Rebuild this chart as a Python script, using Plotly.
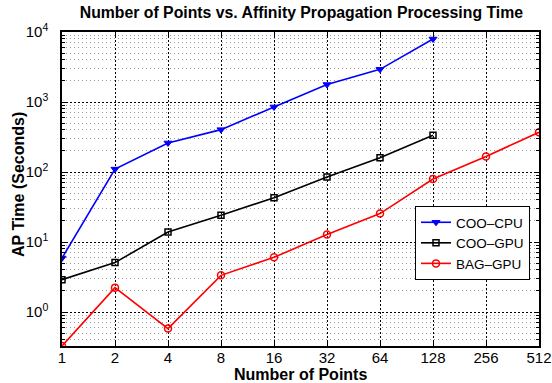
import plotly.graph_objects as go
import numpy as np

points = [1, 2, 4, 8, 16, 32, 64, 128, 256, 512]
x_ticklabels = ["1", "2", "4", "8", "16", "32", "64", "128", "256", "512"]

coo_cpu = [5.9, 110, 260, 403, 850, 1775, 2930, 7940]
coo_gpu = [2.9, 5.08, 13.9, 24.1, 43, 85, 160, 334]
bag_gpu = [0.327, 2.23, 0.58, 3.34, 6.04, 12.8, 25.5, 79.5, 167, 369]

y_tickvals = [1, 10, 100, 1000, 10000]
y_ticklabels = ["10<sup>0</sup>", "10<sup>1</sup>", "10<sup>2</sup>", "10<sup>3</sup>", "10<sup>4</sup>"]

minor_vals = [m * 10.0 ** k for k in range(-1, 4) for m in range(2, 10)]

FONT = "Liberation Sans, Arial, Helvetica, sans-serif"
L, R, T, B = 62, 13, 32, 37
W, H = 552, 383
PW, PH = W - L - R, H - T - B

fig = go.Figure()
fig.add_trace(go.Scatter(x=points[:len(coo_cpu)], y=coo_cpu, name="COO–CPU", mode="lines+markers",
                         line=dict(color="#0000ff", width=1.6),
                         marker=dict(symbol="triangle-down", size=7, color="#0000ff",
                                     line=dict(color="#0000ff", width=1))))
fig.add_trace(go.Scatter(x=points[:len(coo_gpu)], y=coo_gpu, name="COO–GPU", mode="lines+markers",
                         line=dict(color="#000000", width=1.6),
                         marker=dict(symbol="square-open", size=6, color="#000000",
                                     line=dict(color="#000000", width=1.5))))
fig.add_trace(go.Scatter(x=points[:len(bag_gpu)], y=bag_gpu, name="BAG–GPU", mode="lines+markers",
                         line=dict(color="#ff0000", width=1.6),
                         marker=dict(symbol="circle-open", size=7, color="#ff0000",
                                     line=dict(color="#ff0000", width=1.5))))

fig.update_layout(
    width=W, height=H,
    margin=dict(l=L, r=R, t=T, b=B, autoexpand=False),
    paper_bgcolor="white", plot_bgcolor="white",
    font=dict(family=FONT, color="black"),
    title=dict(text="<b>Number of Points vs. Affinity Propagation Processing Time</b>",
               x=0.546, xanchor="center", y=1 - 12.5 / H, yanchor="middle",
               font=dict(size=15.8, family=FONT, color="black")),
    showlegend=True,
    legend=dict(x=(415 - L) / PW, y=(H - B - 206) / PH, xanchor="left", yanchor="top",
                bgcolor="white", bordercolor="black", borderwidth=1,
                font=dict(size=13.5, family=FONT, color="black"),
                tracegroupgap=0, itemwidth=30),
    annotations=[
        dict(text="<b>Number of Points</b>", xref="paper", yref="paper",
             x=0.5, y=-(374 - (H - B)) / PH, xanchor="center", yanchor="middle",
             showarrow=False, font=dict(size=16, family=FONT, color="black")),
        dict(text="<b>AP Time (Seconds)</b>", xref="paper", yref="paper",
             x=-(L - 18) / PW, y=(H - B - 185) / PH, xanchor="center", yanchor="middle",
             textangle=-90, showarrow=False, font=dict(size=16, family=FONT, color="black")),
    ],
)

fig.update_xaxes(
    type="log", range=[np.log10(points[0]), np.log10(points[-1])],
    tickvals=points, ticktext=x_ticklabels, automargin=False,
    tickfont=dict(size=15, family=FONT, color="black"),
    ticks="inside", ticklen=5, tickcolor="black", ticklabelstandoff=-3,
    showline=True, linecolor="black", linewidth=1.5, mirror="allticks",
    showgrid=True, gridcolor="black", griddash="2px,2px", gridwidth=1,
    zeroline=False,
)

fig.update_yaxes(
    type="log", range=[np.log10(min(bag_gpu)), 4],
    tickvals=y_tickvals, ticktext=y_ticklabels, automargin=False,
    tickfont=dict(size=15, family=FONT, color="black"),
    ticks="inside", ticklen=5, tickcolor="black", ticklabelstandoff=9,
    showline=True, linecolor="black", linewidth=1.5, mirror="allticks",
    showgrid=True, gridcolor="black", griddash="2px,2px", gridwidth=1,
    zeroline=False,
    minor=dict(tickvals=minor_vals, ticks="inside", ticklen=3, tickcolor="black",
               showgrid=True, gridcolor="#9a9a9a", griddash="1px,3px", gridwidth=1),
)

fig.write_html("out.html", config={"displayModeBar": False},
               post_script="document.body.style.margin='0';document.body.style.overflow='hidden';")
